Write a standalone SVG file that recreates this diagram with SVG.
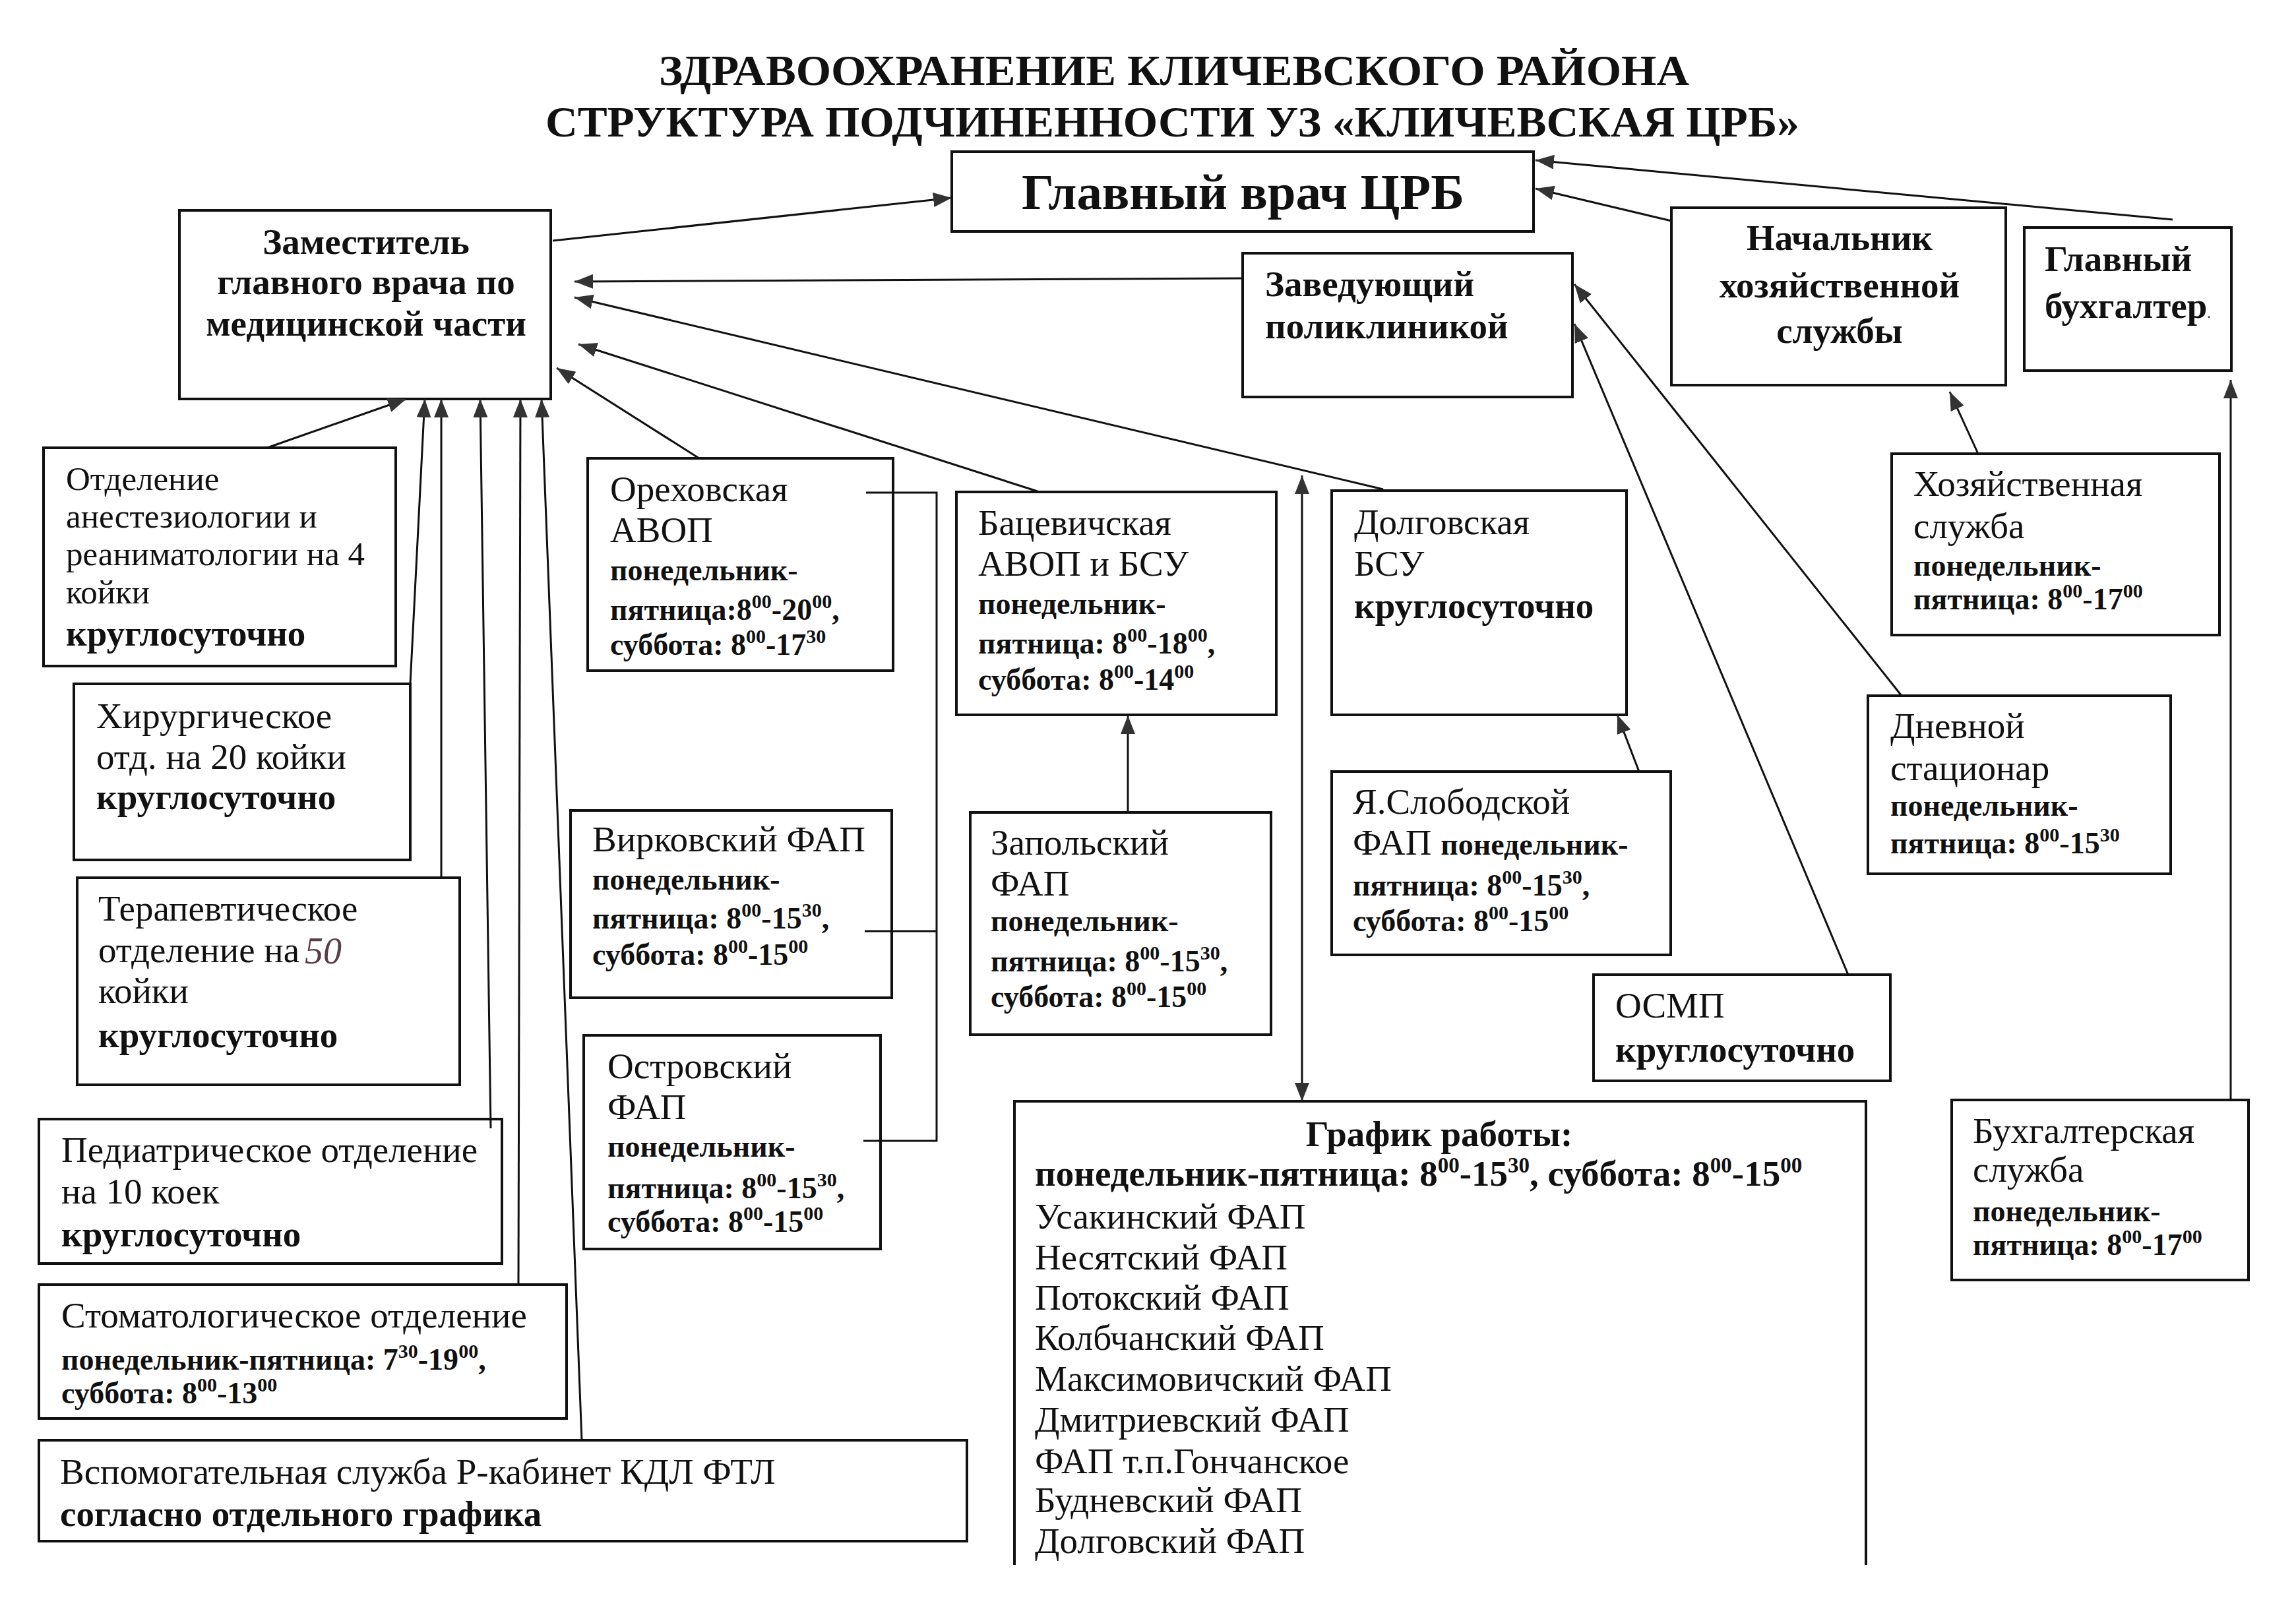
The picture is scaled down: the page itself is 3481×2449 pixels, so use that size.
<svg xmlns="http://www.w3.org/2000/svg" width="3481" height="2449" viewBox="0 0 3481 2449">
<style>
text { font-family: "Liberation Serif", "Times New Roman", serif; fill: #111; }
.t { font-size: 66px; font-weight: bold; }
.h { font-size: 55px; font-weight: bold; }
.r { font-size: 55px; }
.rs { font-size: 51px; }
.k { font-size: 55px; font-weight: bold; }
.s { font-size: 46px; font-weight: bold; }
.sup { font-size: 30px; }
.box { fill: none; stroke: #111; stroke-width: 4; }
.ln { fill: none; stroke: #111; stroke-width: 3; }
.hand { font-family: "Liberation Serif", serif; font-style: italic; font-size: 56px; fill: #5a3d45; }
</style>
<defs>
<marker id="ah" markerUnits="userSpaceOnUse" markerWidth="30" markerHeight="24" refX="28" refY="11" orient="auto-start-reverse">
<path d="M0,0 L28,11 L0,22 z" fill="#333"/>
</marker>
</defs>
<rect x="0" y="0" width="3481" height="2449" fill="#fff"/>

<g id="title">
<text class="t" x="999" y="129" textLength="1562" lengthAdjust="spacingAndGlyphs">ЗДРАВООХРАНЕНИЕ КЛИЧЕВСКОГО РАЙОНА</text>
<text class="t" x="827" y="207" textLength="1901" lengthAdjust="spacingAndGlyphs">СТРУКТУРА ПОДЧИНЕННОСТИ УЗ «КЛИЧЕВСКАЯ ЦРБ»</text>
</g>

<g id="glavvrach">
<rect class="box" x="1443" y="230" width="882" height="121"/>
<text x="1549" y="317" font-size="76" font-weight="bold" textLength="671" lengthAdjust="spacingAndGlyphs">Главный врач ЦРБ</text>
</g>

<g id="zam">
<rect class="box" x="272" y="319" width="563" height="286"/>
<text class="h" x="555" y="385" text-anchor="middle">Заместитель</text>
<text class="h" x="555" y="446" text-anchor="middle">главного врача по</text>
<text class="h" x="555" y="509" text-anchor="middle">медицинской части</text>
</g>

<g id="zav">
<rect class="box" x="1884" y="384" width="500" height="218"/>
<text class="h" x="1918" y="449">Заведующий</text>
<text class="h" x="1918" y="513">поликлиникой</text>
</g>

<g id="nach">
<rect class="box" x="2534" y="315" width="507" height="269"/>
<text class="h" x="2789" y="379" text-anchor="middle">Начальник</text>
<text class="h" x="2789" y="451" text-anchor="middle">хозяйственной</text>
<text class="h" x="2789" y="520" text-anchor="middle">службы</text>
</g>

<g id="glbuh">
<rect class="box" x="3069" y="345" width="314" height="217"/>
<text class="h" x="3100" y="411">Главный</text>
<text class="h" x="3100" y="482">бухгалтер<tspan font-size="22" font-weight="normal">.</tspan></text>
</g>

<g id="anest">
<rect class="box" x="66" y="679" width="534" height="331"/>
<text class="rs" x="100" y="743">Отделение</text>
<text class="rs" x="100" y="800">анестезиологии и</text>
<text class="rs" x="100" y="857">реаниматологии на 4</text>
<text class="rs" x="100" y="915">койки</text>
<text class="k" x="100" y="979">круглосуточно</text>
</g>

<g id="hir">
<rect class="box" x="112" y="1037" width="510" height="267"/>
<text class="r" x="146" y="1104">Хирургическое</text>
<text class="r" x="146" y="1166">отд. на 20 койки</text>
<text class="k" x="146" y="1227">круглосуточно</text>
</g>

<g id="ter">
<rect class="box" x="117" y="1331" width="580" height="314"/>
<text class="r" x="149" y="1396">Терапевтическое</text>
<text class="r" x="149" y="1459">отделение на</text>
<text class="hand" x="462" y="1461">50</text>
<text class="r" x="149" y="1521">койки</text>
<text class="k" x="149" y="1588">круглосуточно</text>
</g>

<g id="ped">
<rect class="box" x="59" y="1697" width="702" height="219"/>
<text class="r" x="93" y="1762">Педиатрическое отделение</text>
<text class="r" x="93" y="1825">на 10 коек</text>
<text class="k" x="93" y="1890">круглосуточно</text>
</g>

<g id="stom">
<rect class="box" x="59" y="1948" width="800" height="203"/>
<text class="r" x="93" y="2013">Стоматологическое отделение</text>
<text class="s" x="93" y="2077">понедельник-пятница: 7<tspan class="sup" dy="-18">30</tspan><tspan dy="18">-19</tspan><tspan class="sup" dy="-18">00</tspan><tspan dy="18">,</tspan></text>
<text class="s" x="93" y="2128">суббота: 8<tspan class="sup" dy="-18">00</tspan><tspan dy="18">-13</tspan><tspan class="sup" dy="-18">00</tspan></text>
</g>

<g id="vspom">
<rect class="box" x="59" y="2184" width="1407" height="153"/>
<text class="r" x="91" y="2250">Вспомогательная служба Р-кабинет КДЛ ФТЛ</text>
<text class="k" x="91" y="2314">согласно отдельного графика</text>
</g>

<g id="oreh">
<rect class="box" x="891" y="695" width="463" height="322"/>
<text class="r" x="925" y="760">Ореховская</text>
<text class="r" x="925" y="822">АВОП</text>
<text class="s" x="925" y="880">понедельник-</text>
<text class="s" x="925" y="940">пятница:8<tspan class="sup" dy="-18">00</tspan><tspan dy="18">-20</tspan><tspan class="sup" dy="-18">00</tspan><tspan dy="18">,</tspan></text>
<text class="s" x="925" y="993">суббота: 8<tspan class="sup" dy="-18">00</tspan><tspan dy="18">-17</tspan><tspan class="sup" dy="-18">30</tspan></text>
</g>

<g id="virk">
<rect class="box" x="865" y="1229" width="487" height="284"/>
<text class="r" x="898" y="1291">Вирковский ФАП</text>
<text class="s" x="898" y="1349">понедельник-</text>
<text class="s" x="898" y="1408">пятница: 8<tspan class="sup" dy="-18">00</tspan><tspan dy="18">-15</tspan><tspan class="sup" dy="-18">30</tspan><tspan dy="18">,</tspan></text>
<text class="s" x="898" y="1463">суббота: 8<tspan class="sup" dy="-18">00</tspan><tspan dy="18">-15</tspan><tspan class="sup" dy="-18">00</tspan></text>
</g>

<g id="ostr">
<rect class="box" x="885" y="1570" width="450" height="324"/>
<text class="r" x="921" y="1635">Островский</text>
<text class="r" x="921" y="1697">ФАП</text>
<text class="s" x="921" y="1754">понедельник-</text>
<text class="s" x="921" y="1817">пятница: 8<tspan class="sup" dy="-18">00</tspan><tspan dy="18">-15</tspan><tspan class="sup" dy="-18">30</tspan><tspan dy="18">,</tspan></text>
<text class="s" x="921" y="1868">суббота: 8<tspan class="sup" dy="-18">00</tspan><tspan dy="18">-15</tspan><tspan class="sup" dy="-18">00</tspan></text>
</g>

<g id="bac">
<rect class="box" x="1450" y="746" width="485" height="338"/>
<text class="r" x="1483" y="811">Бацевичская</text>
<text class="r" x="1483" y="873">АВОП и БСУ</text>
<text class="s" x="1483" y="931">понедельник-</text>
<text class="s" x="1483" y="991">пятница: 8<tspan class="sup" dy="-18">00</tspan><tspan dy="18">-18</tspan><tspan class="sup" dy="-18">00</tspan><tspan dy="18">,</tspan></text>
<text class="s" x="1483" y="1046">суббота: 8<tspan class="sup" dy="-18">00</tspan><tspan dy="18">-14</tspan><tspan class="sup" dy="-18">00</tspan></text>
</g>

<g id="zap">
<rect class="box" x="1471" y="1232" width="456" height="337"/>
<text class="r" x="1502" y="1296">Запольский</text>
<text class="r" x="1502" y="1358">ФАП</text>
<text class="s" x="1502" y="1412">понедельник-</text>
<text class="s" x="1502" y="1473">пятница: 8<tspan class="sup" dy="-18">00</tspan><tspan dy="18">-15</tspan><tspan class="sup" dy="-18">30</tspan><tspan dy="18">,</tspan></text>
<text class="s" x="1502" y="1527">суббота: 8<tspan class="sup" dy="-18">00</tspan><tspan dy="18">-15</tspan><tspan class="sup" dy="-18">00</tspan></text>
</g>

<g id="dolg">
<rect class="box" x="2019" y="744" width="447" height="340"/>
<text class="r" x="2053" y="810">Долговская</text>
<text class="r" x="2053" y="873">БСУ</text>
<text class="k" x="2053" y="937">круглосуточно</text>
</g>

<g id="yasl">
<rect class="box" x="2019" y="1170" width="514" height="278"/>
<text class="r" x="2051" y="1234">Я.Слободской</text>
<text class="r" x="2051" y="1296">ФАП <tspan class="s">понедельник-</tspan></text>
<text class="s" x="2051" y="1358">пятница: 8<tspan class="sup" dy="-18">00</tspan><tspan dy="18">-15</tspan><tspan class="sup" dy="-18">30</tspan><tspan dy="18">,</tspan></text>
<text class="s" x="2051" y="1412">суббота: 8<tspan class="sup" dy="-18">00</tspan><tspan dy="18">-15</tspan><tspan class="sup" dy="-18">00</tspan></text>
</g>

<g id="osmp">
<rect class="box" x="2416" y="1478" width="450" height="161"/>
<text class="r" x="2449" y="1543">ОСМП</text>
<text class="k" x="2449" y="1610">круглосуточно</text>
</g>

<g id="hoz">
<rect class="box" x="2868" y="688" width="497" height="275"/>
<text class="r" x="2901" y="752">Хозяйственная</text>
<text class="r" x="2901" y="816">служба</text>
<text class="s" x="2901" y="873">понедельник-</text>
<text class="s" x="2901" y="924">пятница: 8<tspan class="sup" dy="-18">00</tspan><tspan dy="18">-17</tspan><tspan class="sup" dy="-18">00</tspan></text>
</g>

<g id="dnev">
<rect class="box" x="2832" y="1055" width="459" height="270"/>
<text class="r" x="2866" y="1119">Дневной</text>
<text class="r" x="2866" y="1183">стационар</text>
<text class="s" x="2866" y="1237">понедельник-</text>
<text class="s" x="2866" y="1294">пятница: 8<tspan class="sup" dy="-18">00</tspan><tspan dy="18">-15</tspan><tspan class="sup" dy="-18">30</tspan></text>
</g>

<g id="buhsl">
<rect class="box" x="2959" y="1668" width="450" height="273"/>
<text class="r" x="2991" y="1733">Бухгалтерская</text>
<text class="r" x="2991" y="1792">служба</text>
<text class="s" x="2991" y="1852">понедельник-</text>
<text class="s" x="2991" y="1903">пятница: 8<tspan class="sup" dy="-18">00</tspan><tspan dy="18">-17</tspan><tspan class="sup" dy="-18">00</tspan></text>
</g>

<g id="grafik">
<path class="box" d="M1538,2373 L1538,1670 L2829,1670 L2829,2373"/>
<text class="k" x="2182" y="1738" text-anchor="middle">График работы:</text>
<text class="k" x="1569" y="1798" font-size="52">понедельник-пятница: 8<tspan font-size="33" dy="-20">00</tspan><tspan dy="20">-15</tspan><tspan font-size="33" dy="-20">30</tspan><tspan dy="20">, суббота: 8</tspan><tspan font-size="33" dy="-20">00</tspan><tspan dy="20">-15</tspan><tspan font-size="33" dy="-20">00</tspan></text>
<text class="r" x="1569" y="1863">Усакинский ФАП</text>
<text class="r" x="1569" y="1925">Несятский ФАП</text>
<text class="r" x="1569" y="1986">Потокский ФАП</text>
<text class="r" x="1569" y="2047">Колбчанский ФАП</text>
<text class="r" x="1569" y="2109">Максимовичский ФАП</text>
<text class="r" x="1569" y="2171">Дмитриевский ФАП</text>
<text class="r" x="1569" y="2234">ФАП т.п.Гончанское</text>
<text class="r" x="1569" y="2293">Будневский ФАП</text>
<text class="r" x="1569" y="2355">Долговский ФАП</text>
</g>

<g id="connectors">
<line class="ln" x1="838" y1="365" x2="1443" y2="300" marker-end="url(#ah)"/>
<line class="ln" x1="1884" y1="422" x2="871" y2="427" marker-end="url(#ah)"/>
<line class="ln" x1="2097" y1="742" x2="871" y2="451" marker-end="url(#ah)"/>
<line class="ln" x1="1573" y1="745" x2="877" y2="522" marker-end="url(#ah)"/>
<line class="ln" x1="1060" y1="695" x2="844" y2="558" marker-end="url(#ah)"/>
<line class="ln" x1="405" y1="679" x2="616" y2="605" marker-end="url(#ah)"/>
<line class="ln" x1="622" y1="1037" x2="644" y2="605" marker-end="url(#ah)"/>
<line class="ln" x1="669" y1="1331" x2="669" y2="605" marker-end="url(#ah)"/>
<line class="ln" x1="744" y1="1711" x2="728" y2="605" marker-end="url(#ah)"/>
<line class="ln" x1="786" y1="1948" x2="789" y2="605" marker-end="url(#ah)"/>
<line class="ln" x1="882" y1="2184" x2="821" y2="605" marker-end="url(#ah)"/>
<polyline class="ln" points="1313,747 1420,747 1420,1730 1309,1730"/>
<line class="ln" x1="1311" y1="1412" x2="1420" y2="1412"/>
<line class="ln" x1="1710" y1="1232" x2="1710" y2="1085" marker-end="url(#ah)"/>
<line class="ln" x1="1974" y1="721" x2="1974" y2="1670" marker-start="url(#ah)" marker-end="url(#ah)"/>
<line class="ln" x1="2485" y1="1170" x2="2452" y2="1084" marker-end="url(#ah)"/>
<line class="ln" x1="2802" y1="1478" x2="2387" y2="491" marker-end="url(#ah)"/>
<line class="ln" x1="2883" y1="1055" x2="2387" y2="431" marker-end="url(#ah)"/>
<line class="ln" x1="2534" y1="335" x2="2328" y2="286" marker-end="url(#ah)"/>
<line class="ln" x1="3294" y1="333" x2="2328" y2="243" marker-end="url(#ah)"/>
<line class="ln" x1="2999" y1="688" x2="2956" y2="594" marker-end="url(#ah)"/>
<line class="ln" x1="3382" y1="1668" x2="3382" y2="576" marker-end="url(#ah)"/>
</g>
</svg>
